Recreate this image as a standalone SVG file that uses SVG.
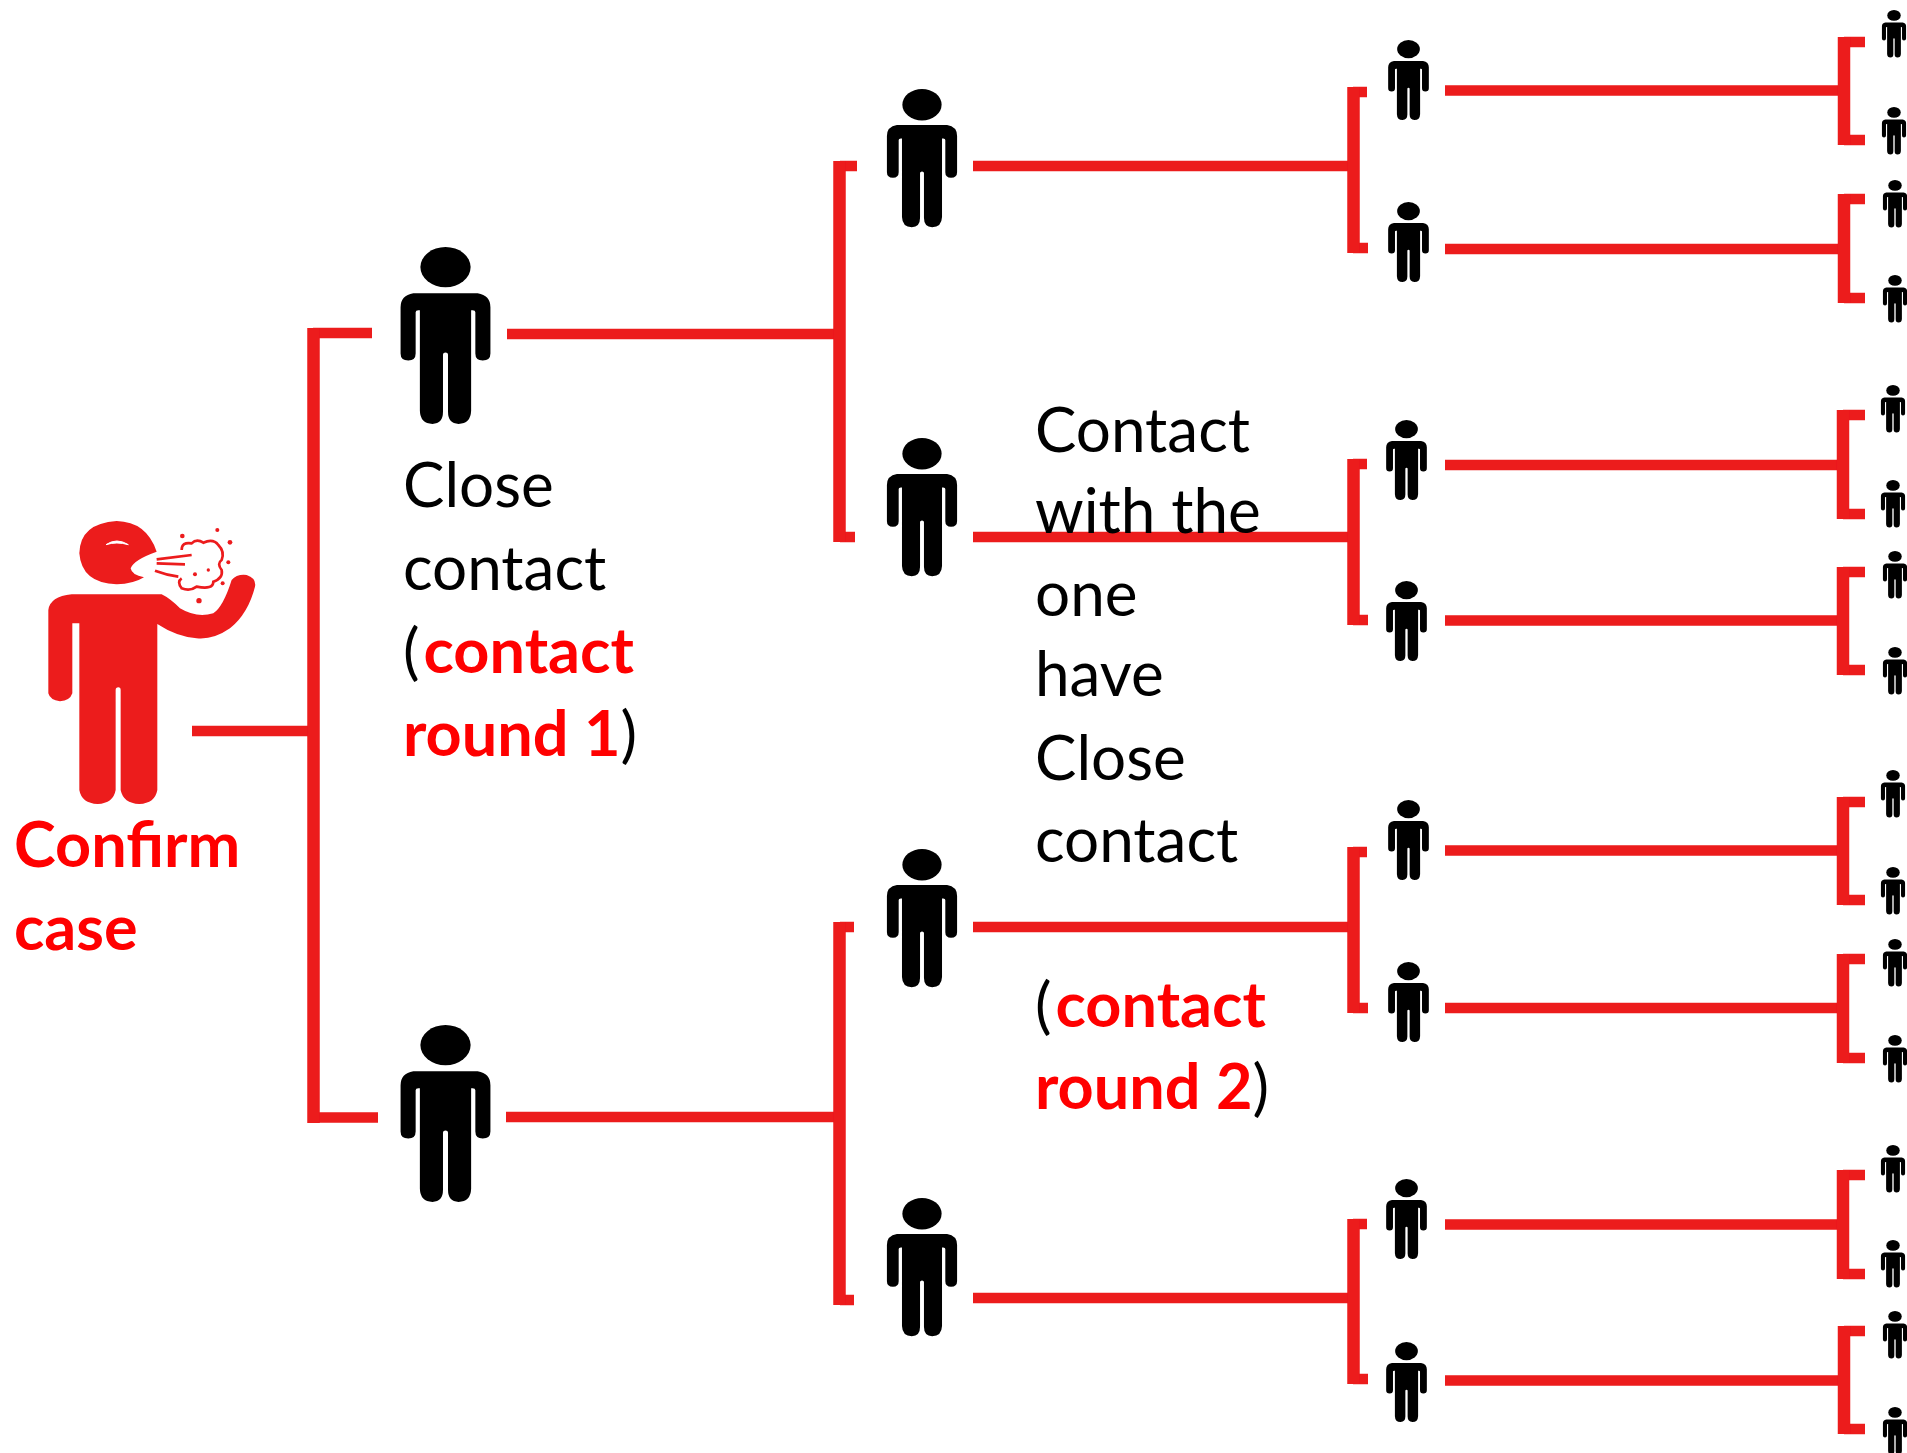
<svg xmlns="http://www.w3.org/2000/svg" width="1907" height="1453" viewBox="0 0 1907 1453">
<style>
.h{fill:none;stroke:#ec1a1e;stroke-width:10.5}
.v{fill:none;stroke:#ec1a1e;stroke-width:12.5}
.t{font-family:"Lato","Liberation Sans",sans-serif;font-size:62px;fill:#000}
.r{fill:#ff0000;font-weight:700;font-size:63px}
</style>
<defs>
<filter id="b" x="-5%" y="-5%" width="110%" height="110%"><feGaussianBlur stdDeviation="0.6"/></filter>
<g id="p"><ellipse cx="0" cy="20" rx="25" ry="20" fill="#050505"/><path fill="#050505" d="M-32 46H32Q44.7 48 44.7 60V106Q44.7 113 37 113Q29.7 113 29.7 106V65Q29.7 63 27 63H25.5V163Q25 176 13 176Q2.5 176 2.5 164V107Q2.5 105 0 105Q-2.5 105-2.5 107V164Q-2.5 176-13 176Q-25 176-25.5 163V63H-27Q-29.7 63-29.7 65V106Q-29.7 113-37 113Q-44.7 113-44.7 106V60Q-44.7 48-32 46Z"/></g>
</defs>
<rect width="1907" height="1453" fill="#fff"/>
<g id="connectors" filter="url(#b)">
<path class="h" d="M192 731H313M313 333H372M313 1117.5H378"/><path class="v" d="M313.5 328V1123"/>
<path class="h" d="M507 334H840M840 166H857M840 537H855"/><path class="v" d="M839.5 161V542"/>
<path class="h" d="M506 1117H840M840 927H854M840 1300H854"/><path class="v" d="M839.5 922V1305"/>
<path class="h" d="M973 166H1353M1353 92H1367M1353 248H1368"/><path class="v" d="M1353.5 87V253"/>
<path class="h" d="M973 537H1353M1353 464H1367M1353 620H1368"/><path class="v" d="M1353.5 459V625"/>
<path class="h" d="M973 927H1353M1353 852H1367M1353 1008H1368"/><path class="v" d="M1353.5 847V1013"/>
<path class="h" d="M973 1298H1353M1353 1224H1367M1353 1379H1368"/><path class="v" d="M1353.5 1219V1384"/>
<path class="h" d="M1445 90.5H1844M1844 42H1865M1844 140H1865"/><path class="v" d="M1844 37V145"/>
<path class="h" d="M1445 249H1844M1844 199H1865M1844 298H1865"/><path class="v" d="M1844 194V303"/>
<path class="h" d="M1445 465H1843M1843 415H1865M1843 514H1865"/><path class="v" d="M1843 410V519"/>
<path class="h" d="M1445 620.5H1843M1843 572H1865M1843 670H1865"/><path class="v" d="M1843 567V675"/>
<path class="h" d="M1445 850.5H1843M1843 802H1865M1843 900H1865"/><path class="v" d="M1843 797V905"/>
<path class="h" d="M1445 1008H1843M1843 959H1865M1843 1058H1865"/><path class="v" d="M1843 954V1063"/>
<path class="h" d="M1445 1224.5H1843M1843 1175H1865M1843 1274H1865"/><path class="v" d="M1843 1170V1279"/>
<path class="h" d="M1445 1380.5H1844M1844 1331H1865M1844 1429H1865"/><path class="v" d="M1844 1326V1434"/>
</g>
<g id="confirm-case">
<g transform="translate(0 480) scale(.3333)" filter="url(#b)">
<path fill="#ec1a1e" d="M470 215Q440 125 350 123Q240 130 238 220Q245 310 350 313Q400 312 432 292Q395 285 392 265Q400 240 470 215Z"/>
<path d="M318 194Q350 172 385 194Q350 184 318 194Z" fill="#fff" stroke="#fff" stroke-width="3"/>
<path fill="#ec1a1e" d="M215 343H485Q510 355 540 385Q590 415 640 400Q670 380 695 300Q710 282 740 285Q770 295 765 320Q745 400 690 445Q640 480 590 475Q530 470 472 432V930Q465 970 418 972Q370 970 362 930V630Q362 622 355 622Q347 622 347 630V930Q340 970 293 972Q245 970 238 930V430H217V640Q210 662 180 664Q150 660 145 640V390Q150 350 215 343Z"/>
<path fill="none" stroke="#ec1a1e" stroke-width="8" d="M545 210Q545 185 575 190Q590 175 610 188Q640 175 655 195Q675 215 665 240Q650 250 665 270Q670 295 640 305Q640 330 590 320Q570 335 545 325Q530 305 545 295M470 238L575 225M470 250L555 253M465 272Q500 285 535 290"/>
<g fill="#ec1a1e"><circle cx="547" cy="168" r="7"/><circle cx="652" cy="150" r="6"/><circle cx="690" cy="187" r="7"/><circle cx="685" cy="247" r="6"/><circle cx="668" cy="310" r="6"/><circle cx="597" cy="362" r="8"/><circle cx="625" cy="270" r="5"/><circle cx="585" cy="283" r="6"/></g>
</g>
<text class="t r" x="14" y="867">Confirm</text>
<text class="t r" x="14" y="950">case</text>
</g>
<g id="close-1" filter="url(#b)"><use href="#p" transform="translate(445.5 247) scale(1.005)"/></g>
<g id="close-2" filter="url(#b)"><use href="#p" transform="translate(445.5 1025) scale(1.005)"/></g>
<g id="round2-1" filter="url(#b)"><use href="#p" transform="translate(922 89) scale(.785)"/></g>
<g id="round2-2" filter="url(#b)"><use href="#p" transform="translate(922 438) scale(.785)"/></g>
<g id="round2-3" filter="url(#b)"><use href="#p" transform="translate(922 849) scale(.785)"/></g>
<g id="round2-4" filter="url(#b)"><use href="#p" transform="translate(922 1198) scale(.785)"/></g>
<g id="round3-1" filter="url(#b)"><use href="#p" transform="translate(1408.5 40) scale(.455)"/></g>
<g id="round3-2" filter="url(#b)"><use href="#p" transform="translate(1408.5 202) scale(.455)"/></g>
<g id="round3-3" filter="url(#b)"><use href="#p" transform="translate(1406.5 420) scale(.455)"/></g>
<g id="round3-4" filter="url(#b)"><use href="#p" transform="translate(1406.5 581) scale(.455)"/></g>
<g id="round3-5" filter="url(#b)"><use href="#p" transform="translate(1408.5 800) scale(.455)"/></g>
<g id="round3-6" filter="url(#b)"><use href="#p" transform="translate(1408.5 962) scale(.455)"/></g>
<g id="round3-7" filter="url(#b)"><use href="#p" transform="translate(1406.5 1179) scale(.455)"/></g>
<g id="round3-8" filter="url(#b)"><use href="#p" transform="translate(1406.5 1342) scale(.455)"/></g>
<g id="round4" filter="url(#b)">
<use href="#p" transform="translate(1894 10) scale(.27)"/>
<use href="#p" transform="translate(1894 107) scale(.27)"/>
<use href="#p" transform="translate(1895 180) scale(.27)"/>
<use href="#p" transform="translate(1895 275) scale(.27)"/>
<use href="#p" transform="translate(1893 385) scale(.27)"/>
<use href="#p" transform="translate(1893 480) scale(.27)"/>
<use href="#p" transform="translate(1895 551) scale(.27)"/>
<use href="#p" transform="translate(1895 647) scale(.27)"/>
<use href="#p" transform="translate(1893 770) scale(.27)"/>
<use href="#p" transform="translate(1893 867) scale(.27)"/>
<use href="#p" transform="translate(1895 939) scale(.27)"/>
<use href="#p" transform="translate(1895 1035) scale(.27)"/>
<use href="#p" transform="translate(1893 1145) scale(.27)"/>
<use href="#p" transform="translate(1893 1240) scale(.27)"/>
<use href="#p" transform="translate(1895 1311) scale(.27)"/>
<use href="#p" transform="translate(1895 1407) scale(.27)"/>
</g>
<g id="label-round-1">
<text class="t" x="403" y="507">Close</text>
<text class="t" x="403" y="590">contact</text>
<text class="t" x="403" y="673">(<tspan class="r" dx="4">contact</tspan></text>
<text class="t" x="403" y="756"><tspan class="r">round 1</tspan>)</text>
</g>
<g id="label-round-2">
<text class="t" x="1035" y="452">Contact</text>
<text class="t" x="1035" y="533">with the</text>
<text class="t" x="1035" y="616">one</text>
<text class="t" x="1035" y="696">have</text>
<text class="t" x="1035" y="780">Close</text>
<text class="t" x="1035" y="862">contact</text>
<text class="t" x="1035" y="1027">(<tspan class="r" dx="4">contact</tspan></text>
<text class="t" x="1035" y="1109"><tspan class="r">round 2</tspan>)</text>
</g>
</svg>
